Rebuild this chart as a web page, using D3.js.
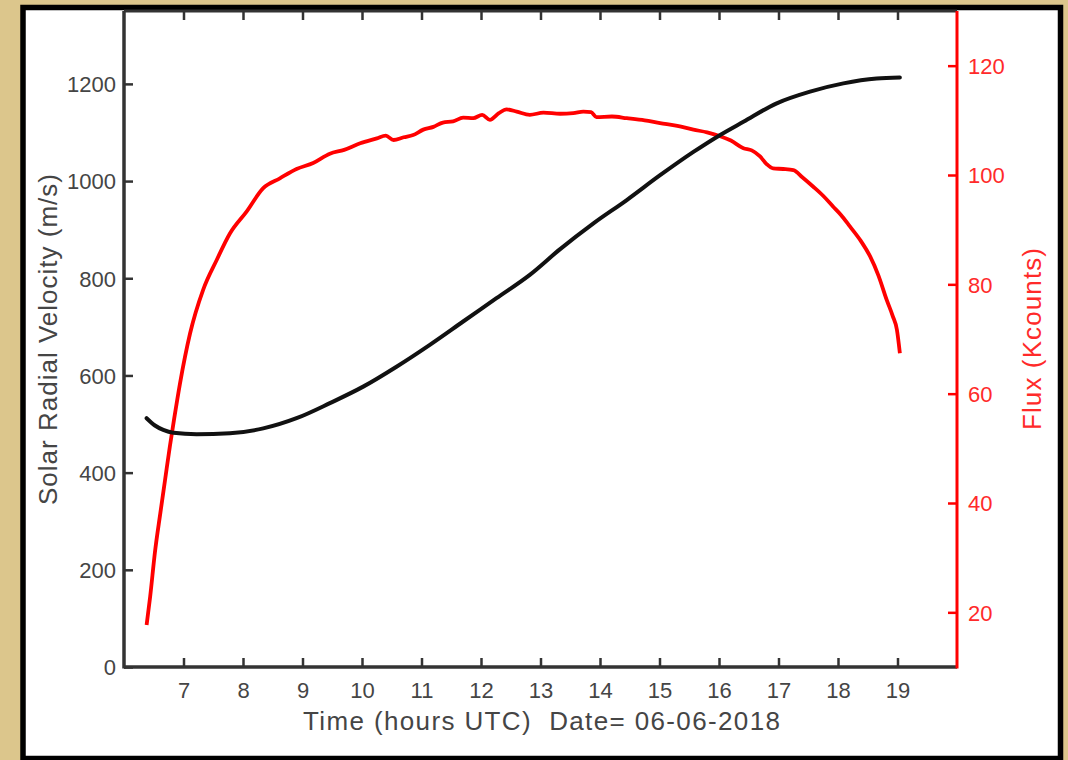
<!DOCTYPE html>
<html>
<head>
<meta charset="utf-8">
<script src="https://cdn.jsdelivr.net/npm/d3@7"></script>
<style>
  html, body { margin: 0; padding: 0; background: #dcc68c; }
  svg { display: block; }
  text { font-family: "Liberation Sans", Arial, Helvetica, sans-serif; }
</style>
</head>
<body>
<svg id="chart" width="1068" height="760"></svg>
<script>
// ---- data ----
const timeVelocity = [6.38, 6.52, 6.66, 6.83, 7.22, 7.78, 8.34, 8.90, 9.46, 10.02, 10.58, 11.14, 11.70, 12.26, 12.82, 13.33, 13.89, 14.45, 15.01, 15.57, 16.02, 16.41, 16.97, 17.53, 18.09, 18.65, 19.04];
const velocity     = [512, 497, 488, 482, 479, 481, 491, 512, 543, 577, 618, 663, 711, 759, 807, 860, 913, 961, 1012, 1060, 1095, 1122, 1160, 1184, 1201, 1211, 1213];

const timeFlux = [6.38, 6.44, 6.52, 6.61, 6.69, 6.77, 6.84, 6.94, 7.11, 7.33, 7.56, 7.78, 8.06, 8.34, 8.62, 8.90, 9.18, 9.46, 9.70, 9.97, 10.25, 10.40, 10.53, 10.70, 10.86, 11.03, 11.20, 11.36, 11.53, 11.70, 11.87, 12.02, 12.15, 12.30, 12.43, 12.60, 12.82, 13.05, 13.33, 13.55, 13.72, 13.85, 13.94, 14.20, 14.45, 14.75, 15.01, 15.30, 15.57, 15.80, 16.02, 16.20, 16.41, 16.55, 16.69, 16.80, 16.91, 17.08, 17.25, 17.40, 17.58, 17.75, 17.92, 18.05, 18.20, 18.38, 18.54, 18.68, 18.82, 18.92, 18.99, 19.04];
const flux     = [17.7, 22.9, 31.0, 38.1, 44.2, 50.3, 55.2, 61.8, 71.0, 79.0, 84.5, 89.3, 93.3, 97.6, 99.4, 101.1, 102.2, 103.9, 104.6, 105.8, 106.7, 107.2, 106.4, 106.9, 107.3, 108.3, 108.8, 109.6, 109.8, 110.5, 110.4, 111.0, 110.1, 111.3, 112.0, 111.6, 111.0, 111.4, 111.2, 111.3, 111.6, 111.5, 110.6, 110.7, 110.4, 110.0, 109.5, 109.0, 108.3, 107.8, 107.1, 106.3, 104.9, 104.5, 103.4, 102.0, 101.2, 101.1, 100.9, 99.6, 97.9, 96.2, 94.2, 92.7, 90.6, 88.0, 85.1, 81.6, 77.1, 74.2, 71.7, 67.4];

const xTicks = [7, 8, 9, 10, 11, 12, 13, 14, 15, 16, 17, 18, 19];
const yLeftTicks = [0, 200, 400, 600, 800, 1000, 1200];
const yRightTicks = [20, 40, 60, 80, 100, 120];

const xTitle = "Time (hours UTC)  Date= 06-06-2018";
const yLeftTitle = "Solar Radial Velocity (m/s)";
const yRightTitle = "Flux (Kcounts)";

// ---- layout ----
const svg = d3.select("#chart");
const L = 124, R = 957, T = 11, B = 667;

// frame
svg.append("rect").attr("x", 23).attr("y", 7.5).attr("width", 1037.5).attr("height", 751)
  .attr("fill", "#ffffff").attr("stroke", "#000").attr("stroke-width", 5.5);

const x = d3.scaleLinear().domain([6, 20]).range([L, R]);
const yL = d3.scaleLinear().domain([0, 1350]).range([B, T]);
const yR = d3.scaleLinear().domain([10, 130]).range([B, T]);

const axisColor = "#333";
const labelColor = "#454545";
const red = "#ff0000";

// bottom axis (ticks inward)
const gx = svg.append("g").attr("transform", `translate(0,${B})`)
  .call(d3.axisBottom(x).tickValues(xTicks).tickSize(-9).tickPadding(0).tickFormat(d3.format("d")));
gx.select(".domain").remove();
gx.selectAll(".tick line").attr("stroke", axisColor).attr("stroke-width", 2.5);
gx.selectAll(".tick text").attr("fill", labelColor).attr("font-size", 22).attr("dy", null).attr("y", 31);

// top ticks
const gt = svg.append("g").attr("transform", `translate(0,${T})`)
  .call(d3.axisTop(x).tickValues(xTicks).tickSize(-9).tickFormat(""));
gt.select(".domain").remove();
gt.selectAll(".tick line").attr("stroke", axisColor).attr("stroke-width", 2.5);

// left axis
const gl = svg.append("g").attr("transform", `translate(${L},0)`)
  .call(d3.axisLeft(yL).tickValues(yLeftTicks).tickSize(-9).tickPadding(0).tickFormat(d3.format("d")));
gl.select(".domain").remove();
gl.selectAll(".tick line").attr("stroke", axisColor).attr("stroke-width", 2.5);
gl.selectAll(".tick text").attr("fill", labelColor).attr("font-size", 22).attr("x", -8).attr("dy", "0.36em");

// right axis
const gr = svg.append("g").attr("transform", `translate(${R},0)`)
  .call(d3.axisRight(yR).tickValues(yRightTicks).tickSize(-9).tickPadding(0).tickFormat(d3.format("d")));
gr.select(".domain").remove();
gr.selectAll(".tick line").attr("stroke", red).attr("stroke-width", 2.5);
gr.selectAll(".tick text").attr("fill", "#ff2a2a").attr("font-size", 22).attr("x", 11).attr("dy", "0.36em");

// axis lines
svg.append("line").attr("x1", L).attr("x2", R).attr("y1", T).attr("y2", T).attr("stroke", axisColor).attr("stroke-width", 3);
svg.append("line").attr("x1", L).attr("x2", R).attr("y1", B).attr("y2", B).attr("stroke", axisColor).attr("stroke-width", 3.5);
svg.append("line").attr("x1", L).attr("x2", L).attr("y1", T).attr("y2", B + 1.5).attr("stroke", axisColor).attr("stroke-width", 3.5);
svg.append("line").attr("x1", R).attr("x2", R).attr("y1", T).attr("y2", B + 1.5).attr("stroke", red).attr("stroke-width", 3);

// series
const velData = timeVelocity.map((t, i) => [t, velocity[i]]);
const fluxData = timeFlux.map((t, i) => [t, flux[i]]);

svg.append("path").datum(fluxData)
  .attr("fill", "none").attr("stroke", red).attr("stroke-width", 3.8).attr("stroke-linejoin", "round")
  .attr("d", d3.line().x(d => x(d[0])).y(d => yR(d[1])).curve(d3.curveMonotoneX));

svg.append("path").datum(velData)
  .attr("fill", "none").attr("stroke", "#111").attr("stroke-width", 4).attr("stroke-linecap", "round")
  .attr("d", d3.line().x(d => x(d[0])).y(d => yL(d[1])).curve(d3.curveMonotoneX));

// titles
svg.append("text").attr("x", (303 + 780) / 2).attr("y", 730).attr("text-anchor", "middle")
  .style("white-space", "pre")
  .attr("fill", labelColor).attr("font-size", 26).attr("textLength", 477).attr("lengthAdjust", "spacing")
  .text(xTitle);

svg.append("text").attr("transform", `translate(57,${(505 + 174) / 2}) rotate(-90)`).attr("text-anchor", "middle")
  .attr("fill", labelColor).attr("font-size", 26).attr("textLength", 331).attr("lengthAdjust", "spacing")
  .text(yLeftTitle);

svg.append("text").attr("transform", `translate(1041,${(430 + 248) / 2}) rotate(-90)`).attr("text-anchor", "middle")
  .attr("fill", "#ff2a2a").attr("font-size", 26).attr("textLength", 182).attr("lengthAdjust", "spacing")
  .text(yRightTitle);
</script>
</body>
</html>
